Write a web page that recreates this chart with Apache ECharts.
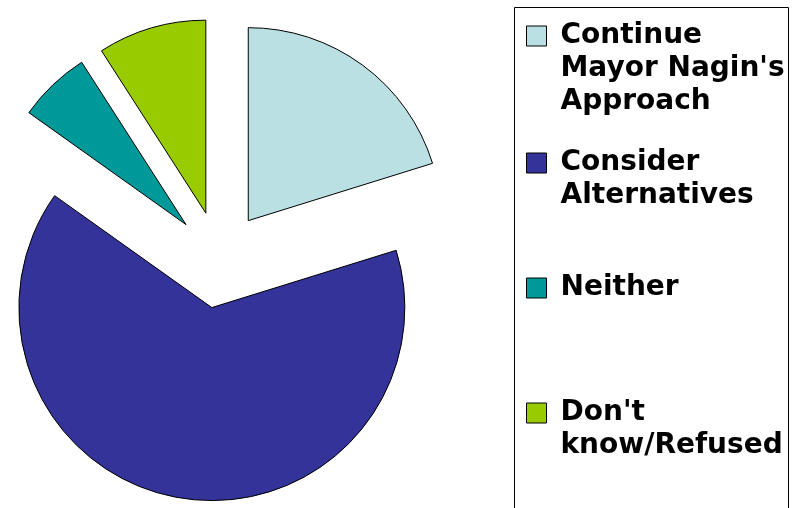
<!DOCTYPE html>
<html>
<head>
<meta charset="utf-8">
<script src="https://cdn.jsdelivr.net/npm/echarts@6/dist/echarts.min.js"></script>
<style>
  html, body { margin: 0; padding: 0; background: #fff; }
  #chart { width: 796px; height: 508px; }
</style>
</head>
<body>
<div id="chart"></div>
<script>
// slices go clockwise from 12 o'clock
const categories = ["Continue Mayor Nagin's Approach", 'Consider Alternatives', 'Neither', "Don't know/Refused"]
const values = [20, 64, 6, 9]
const legendLabels = ["Continue\nMayor Nagin's\nApproach", 'Consider\nAlternatives', 'Neither', "Don't\nknow/Refused"]
const colors = ['#BBE0E3', '#333399', '#009999', '#99CC00']

const chart = echarts.init(document.getElementById('chart'))

const LINE_H = 33
const swatchTops = [26, 153, 278, 403]

// one legend per entry so the swatch sits on the first line and entries are evenly spaced.
// legend text is centred on the swatch, so put empty lines above the label.
const legends = categories.map((name, i) => {
  const lines = legendLabels[i].split('\n').length
  const half = (2 * lines - 1) * LINE_H / 2
  const label = ' \n'.repeat(lines - 1) + legendLabels[i]
  return {
    data: [name],
    orient: 'vertical',
    left: 526,
    top: swatchTops[i] + 10 - half,
    padding: 0,
    itemWidth: 20,
    itemHeight: 20,
    icon: 'rect',
    selectedMode: false,
    formatter: () => label,
    itemStyle: { borderColor: '#000', borderWidth: 1 },
    textStyle: {
      fontFamily: 'DejaVu Sans',
      fontWeight: 'bold',
      fontSize: 28,
      color: '#000',
      lineHeight: LINE_H,
      padding: [0, 0, 0, 9],
    },
  }
})

chart.setOption({
  animation: false,
  legend: legends,
  graphic: [{
    type: 'rect',
    silent: true,
    shape: { x: 514.5, y: 7.5, width: 274, height: 520 },
    style: { fill: 'none', stroke: '#000', lineWidth: 1 },
  }],
  series: [{
    type: 'pie',
    center: [219.5, 259.7],
    radius: 193,
    startAngle: 90,
    clockwise: true,
    selectedMode: 'multiple',
    selectedOffset: 48.5,
    label: { show: false },
    labelLine: { show: false },
    itemStyle: { borderColor: '#000', borderWidth: 1 },
    emphasis: { disabled: true },
    select: { itemStyle: { borderColor: '#000', borderWidth: 1 } },
    data: categories.map((name, i) => ({
      name,
      value: values[i],
      selected: true,
      itemStyle: { color: colors[i] },
    })),
  }],
})
</script>
</body>
</html>
